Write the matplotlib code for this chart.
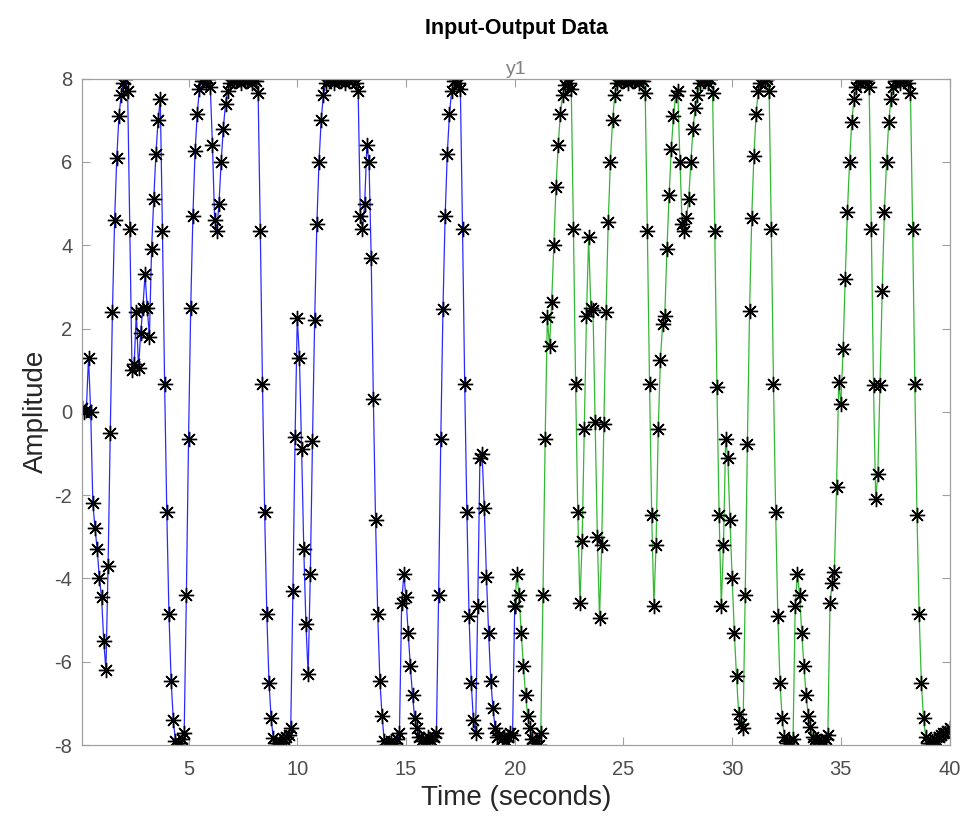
#!/usr/bin/env python3
# -*- coding: utf-8 -*-
"""
Input-Output Data plot (y1) - estimation part in blue, validation part in green.
"""

import numpy as np
import matplotlib
matplotlib.use('Agg')
import matplotlib.pyplot as plt

Ts = 0.1  # sample time (s)

# y1 samples 1..200 (0.1 s .. 20 s)
y_est = [
    0.1, 0.0, 0.05, 1.3, 0.0, -2.2, -2.8, -3.3, -4.0, -4.45,
    -5.5, -6.2, -3.7, -0.5, 2.4, 4.6, 6.1, 7.1, 7.6, 7.9,
    8.0, 7.7, 4.4, 1.0, 1.15, 2.4, 1.05, 1.9, 2.5, 3.3,
    2.5, 1.8, 3.9, 5.1, 6.2, 7.0, 7.5, 4.35, 0.67, -2.4,
    -4.86, -6.46, -7.4, -7.9, -8.0, -7.95, -7.85, -7.7, -4.4, -0.66,
    2.5, 4.7, 6.25, 7.15, 7.75, 7.95, 8.0, 7.9, 8.0, 7.8,
    6.4, 4.6, 4.35, 5.0, 6.0, 6.8, 7.4, 7.7, 7.9, 8.0,
    7.95, 8.0, 8.0, 7.9, 8.0, 7.95, 8.0, 8.0, 7.9, 8.0,
    7.95, 7.65, 4.35, 0.67, -2.4, -4.86, -6.5, -7.36, -7.84, -7.95,
    -8.0, -7.9, -7.95, -7.85, -7.8, -7.75, -7.6, -4.3, -0.6, 2.25,
    1.3, -0.9, -3.3, -5.1, -6.3, -3.9, -0.7, 2.2, 4.5, 6.0,
    7.0, 7.6, 7.9, 8.0, 7.95, 8.0, 7.9, 8.0, 8.0, 7.95,
    8.0, 7.9, 8.0, 7.95, 8.0, 8.0, 7.9, 7.7, 4.7, 4.4,
    5.0, 6.4, 6.0, 3.7, 0.3, -2.6, -4.86, -6.46, -7.3, -7.9,
    -8.0, -7.95, -7.9, -8.0, -7.95, -7.85, -7.7, -4.6, -3.9, -4.45,
    -5.3, -6.1, -6.8, -7.35, -7.6, -7.8, -7.9, -7.85, -7.9, -7.8,
    -7.85, -7.9, -7.8, -7.7, -4.4, -0.66, 2.46, 4.7, 6.2, 7.16,
    7.7, 7.95, 8.0, 7.9, 7.75, 4.4, 0.67, -2.4, -4.9, -6.5,
    -7.4, -7.7, -4.65, -1.1, -1.0, -2.3, -3.96, -5.3, -6.46, -7.1,
    -7.6, -7.8, -7.75, -7.85, -7.8, -7.9, -7.8, -7.7, -7.75, -4.65,
]

# y1 samples 201..400 (20.1 s .. 40 s)
y_val = [
    -3.9, -4.4, -5.3, -6.1, -6.8, -7.3, -7.6, -7.85, -7.95, -7.9,
    -8.0, -7.7, -4.4, -0.66, 2.27, 1.57, 2.64, 4.0, 5.4, 6.4,
    7.16, 7.6, 7.85, 8.0, 7.9, 7.75, 4.4, 0.67, -2.4, -4.6,
    -3.1, -0.4, 2.3, 4.2, 2.5, 2.45, -0.25, -3.0, -4.95, -3.2,
    -0.3, 2.4, 4.55, 6.0, 7.0, 7.6, 7.9, 8.0, 7.95, 8.0,
    8.0, 7.9, 8.0, 7.95, 8.0, 8.0, 7.9, 8.0, 7.95, 7.65,
    4.35, 0.67, -2.47, -4.65, -3.2, -0.4, 1.25, 2.1, 2.3, 3.9,
    5.2, 6.3, 7.1, 7.6, 7.7, 6.0, 4.5, 4.35, 4.65, 5.1,
    6.0, 6.8, 7.3, 7.6, 7.9, 8.0, 7.95, 8.0, 7.9, 8.0,
    7.65, 4.35, 0.6, -2.47, -4.65, -3.2, -0.66, -1.1, -2.6, -4.0,
    -5.3, -6.35, -7.25, -7.5, -7.6, -4.4, -0.77, 2.43, 4.66, 6.15,
    7.16, 7.7, 7.9, 8.0, 7.95, 8.0, 7.7, 4.4, 0.67, -2.4,
    -4.9, -6.5, -7.36, -7.8, -7.95, -7.9, -8.0, -7.85, -4.65, -3.9,
    -4.4, -5.3, -6.1, -6.8, -7.3, -7.57, -7.8, -7.85, -7.9, -7.95,
    -7.9, -8.0, -7.85, -7.75, -4.6, -4.1, -3.85, -1.8, 0.72, 0.2,
    1.5, 3.2, 4.8, 6.0, 6.95, 7.5, 7.8, 8.0, 7.9, 8.0,
    7.95, 8.0, 7.8, 4.4, 0.65, -2.1, -1.5, 0.65, 2.9, 4.8,
    6.0, 6.95, 7.5, 7.8, 7.95, 8.0, 7.9, 8.0, 7.95, 8.0,
    7.9, 7.65, 4.4, 0.67, -2.47, -4.86, -6.5, -7.36, -7.8, -7.95,
    -8.0, -7.9, -7.85, -7.9, -7.8, -7.75, -7.7, -7.7, -7.65, -7.6,
]

x_ticks = [5, 10, 15, 20, 25, 30, 35, 40]
y_ticks = [-8, -6, -4, -2, 0, 2, 4, 6, 8]

FONT = ['Liberation Sans', 'DejaVu Sans']
GRAY_TXT = '#4d4d4d'
GRAY_AX = '#a0a0a0'


def main():
    plt.rcParams['font.family'] = FONT
    plt.rcParams['axes.unicode_minus'] = False

    fig = plt.figure(figsize=(9.68, 8.27), dpi=100)
    ax = fig.add_axes([0.0847, 0.099, 0.8963, 0.806])

    t_est = Ts * np.arange(1, len(y_est) + 1)
    # green part starts from the last blue sample so the trace is continuous
    t_val = Ts * np.arange(len(y_est), len(y_est) + len(y_val) + 1)
    y_val_full = [y_est[-1]] + y_val

    star = (8, 2, 0)
    ax.plot(t_est, y_est, color='#2a2aff', lw=0.9, marker=star,
            markersize=11, markeredgecolor='k', markeredgewidth=1.0)
    ax.plot(t_val, y_val_full, color='#33b833', lw=0.9, marker=star,
            markersize=11, markeredgecolor='k', markeredgewidth=1.0)

    ax.set_xlim(0.1, 40)
    ax.set_ylim(-8, 8)
    ax.set_xticks(x_ticks)
    ax.set_yticks(y_ticks)
    ax.tick_params(direction='in', length=6, width=0.8, colors=GRAY_AX,
                   labelcolor=GRAY_TXT, labelsize=14.5, top=True, right=True)
    ax.tick_params(axis='x', pad=11)
    ax.tick_params(axis='y', pad=7)
    for sp in ax.spines.values():
        sp.set_color(GRAY_AX)
        sp.set_linewidth(0.9)

    ax.set_xlabel('Time (seconds)', fontsize=20, color='#262626', labelpad=4)
    ax.set_ylabel('Amplitude', fontsize=20, color='#262626', labelpad=4)
    ax.set_title('y1', fontsize=14, color='#808080', pad=3)
    fig.text(0.534, 0.966, 'Input-Output Data', ha='center', va='center',
             fontsize=15.5, fontweight='bold', color='k')

    fig.savefig('out.png', dpi=100)


if __name__ == '__main__':
    main()
